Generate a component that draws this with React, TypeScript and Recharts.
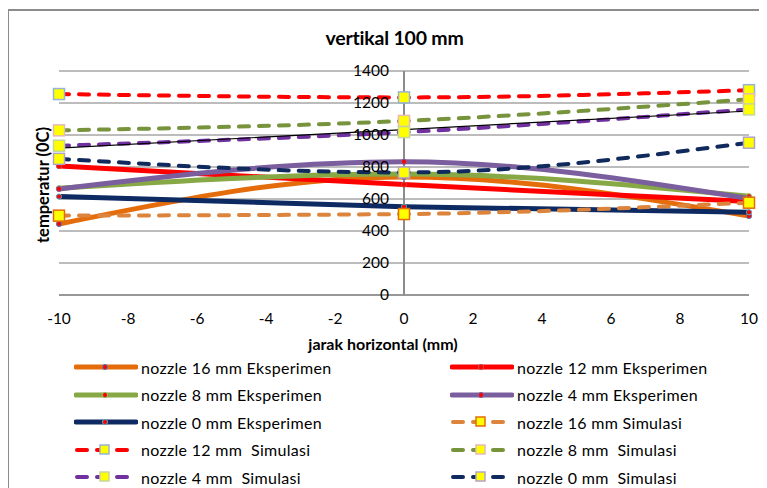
import React from "react";
import {
  LineChart,
  Line,
  XAxis,
  YAxis,
  CartesianGrid,
  ReferenceLine,
} from "recharts";

const xValues = [-10, 0, 10];

const nozzle16Eks = [444, 738, 494];
const nozzle12Eks = [806, 690, 585];
const nozzle8Eks = [667, 756, 617];
const nozzle4Eks = [663, 833, 603];
const nozzle0Eks = [615, 552, 517];
const nozzle16Sim = [496, 506, 577];
const nozzle12Sim = [1256, 1235, 1280];
const nozzle8Sim = [1029, 1088, 1223];
const nozzle4Sim = [933, 1018, 1160];
const nozzle0Sim = [851, 766, 952];
const trend4Sim = [918, 1034, 1150];

const xTicks = [-10, -8, -6, -4, -2, 0, 2, 4, 6, 8, 10];
const yTicks = [0, 200, 400, 600, 800, 1000, 1200, 1400];

const FONT = "Lato, Carlito, Calibri, 'Open Sans', sans-serif";

type Series = {
  key: string;
  name: string;
  values: number[];
  color: string;
  sim: boolean;
  border: string;
};

const series: Series[] = [
  { key: "n16e", name: "nozzle 16 mm Eksperimen", values: nozzle16Eks, color: "#E46C0A", sim: false, border: "#4F81BD" },
  { key: "n12e", name: "nozzle 12 mm Eksperimen", values: nozzle12Eks, color: "#FF0000", sim: false, border: "#C0504D" },
  { key: "n8e", name: "nozzle 8 mm Eksperimen", values: nozzle8Eks, color: "#86A845", sim: false, border: "#9BBB59" },
  { key: "n4e", name: "nozzle 4 mm Eksperimen", values: nozzle4Eks, color: "#7B5E9E", sim: false, border: "#8064A2" },
  { key: "n0e", name: "nozzle 0 mm Eksperimen", values: nozzle0Eks, color: "#0E2A62", sim: false, border: "#4BACC6" },
  { key: "n16s", name: "nozzle 16 mm Simulasi", values: nozzle16Sim, color: "#DD843C", sim: true, border: "#E46C0A" },
  { key: "n12s", name: "nozzle 12 mm  Simulasi", values: nozzle12Sim, color: "#FF0000", sim: true, border: "#95B3D7" },
  { key: "n8s", name: "nozzle 8 mm  Simulasi", values: nozzle8Sim, color: "#77933C", sim: true, border: "#E6B9B8" },
  { key: "n4s", name: "nozzle 4 mm  Simulasi", values: nozzle4Sim, color: "#7030A0", sim: true, border: "#C3D69B" },
  { key: "n0s", name: "nozzle 0 mm  Simulasi", values: nozzle0Sim, color: "#102A5E", sim: true, border: "#B3A2C7" },
];

const data = xValues.map((x, i) => {
  const row: Record<string, number> = { x, trend: trend4Sim[i] };
  series.forEach((s) => {
    row[s.key] = s.values[i];
  });
  return row;
});

const makeDot = (s: Series) => (props: any) => {
  const { cx, cy, index } = props;
  if (cx == null || cy == null) return <g key={`${s.key}-${index}`} />;
  if (s.sim) {
    return (
      <rect
        key={`${s.key}-${index}`}
        x={cx - 5.5}
        y={cy - 5.5}
        width={11}
        height={11}
        fill="#FFFF00"
        stroke={s.border}
        strokeWidth={1.5}
      />
    );
  }
  return (
    <circle
      key={`${s.key}-${index}`}
      cx={cx}
      cy={cy}
      r={2.6}
      fill="#FF0000"
      stroke={s.border}
      strokeWidth={1}
    />
  );
};

// y labels sit next to the axis that crosses at x = 0 (plot centre)
const YTick = (props: any) => {
  const { y, payload } = props;
  return (
    <text x={389} y={y} dy={5} textAnchor="end" fontSize={15.5} fill="#000" fontFamily={FONT}>
      {payload.value}
    </text>
  );
};

const LegendIcon = ({ s }: { s: Series }) => (
  <svg width={64} height={20}>
    {s.sim ? (
      <line x1={3} y1={10} x2={61} y2={10} stroke={s.color} strokeWidth={4} strokeDasharray="10 10" strokeLinecap="round" />
    ) : (
      <line x1={2} y1={10} x2={62} y2={10} stroke={s.color} strokeWidth={5} strokeLinecap="round" />
    )}
    {s.sim ? (
      <rect x={26} y={5} width={9} height={9} fill="#FFFF00" stroke={s.border} strokeWidth={1.5} />
    ) : (
      <circle cx={31} cy={10} r={2.6} fill="#FF0000" stroke={s.border} strokeWidth={1} />
    )}
  </svg>
);

export default function App() {
  return (
    <div
      style={{
        position: "relative",
        width: 767,
        height: 488,
        overflow: "hidden",
        margin: "-8px 0 0 -8px",
        background: "#fff",
        fontFamily: FONT,
      }}
    >
      <div
        style={{
          position: "absolute",
          left: 7,
          top: 9,
          width: 800,
          height: 600,
          borderLeft: "2px solid #8C8C8C",
          borderTop: "2px solid #8C8C8C",
        }}
      />
      <div
        style={{
          position: "absolute",
          left: 0,
          top: 26,
          width: 789,
          textAlign: "center",
          fontSize: 19.5,
          fontWeight: 700,
          letterSpacing: -0.2,
        }}
      >
        vertikal 100 mm
      </div>
      <div
        style={{
          position: "absolute",
          left: 43,
          top: 185,
          transform: "translate(-50%, -50%) rotate(-90deg)",
          fontSize: 16.5,
          fontWeight: 700,
          whiteSpace: "nowrap",
        }}
      >
        temperatur (0C)
      </div>
      <div
        style={{
          position: "absolute",
          left: 383,
          top: 343,
          transform: "translate(-50%, -50%)",
          fontSize: 16,
          fontWeight: 700,
          whiteSpace: "nowrap",
        }}
      >
        jarak horizontal (mm)
      </div>
      <div style={{ position: "absolute", left: 0, top: 0 }}>
        <LineChart
          width={767}
          height={488}
          data={data}
          margin={{ top: 71, right: 18, bottom: 153, left: 58 }}
        >
          <CartesianGrid vertical={false} stroke="#A6A6A6" strokeWidth={1.5} />
          <XAxis
            type="number"
            dataKey="x"
            domain={[-10, 10]}
            ticks={xTicks}
            height={40}
            axisLine={{ stroke: "#8C8C8C", strokeWidth: 1.5 }}
            tickLine={false}
            tickMargin={12}
            tick={{ fontSize: 15.5, fill: "#000", fontFamily: FONT }}
          />
          <YAxis
            type="number"
            domain={[0, 1400]}
            ticks={yTicks}
            width={1}
            axisLine={false}
            tickLine={false}
            tick={YTick}
          />
          <ReferenceLine x={0} stroke="#8C8C8C" strokeWidth={2} />
          {series.map((s) => (
            <Line
              key={s.key}
              type="monotone"
              dataKey={s.key}
              name={s.name}
              stroke={s.color}
              strokeWidth={s.sim ? 4 : 5}
              strokeDasharray={s.sim ? "10 10" : undefined}
              strokeLinecap="round"
              dot={makeDot(s)}
              activeDot={false}
              isAnimationActive={false}
            />
          ))}
          <Line
            type="linear"
            dataKey="trend"
            stroke="#000"
            strokeWidth={1.2}
            dot={false}
            activeDot={false}
            legendType="none"
            isAnimationActive={false}
          />
        </LineChart>
      </div>
      {series.map((s, i) => {
        const row = Math.floor(i / 2);
        const col = i % 2;
        return (
          <div
            key={s.key}
            style={{
              position: "absolute",
              left: col === 0 ? 74 : 450,
              top: 367 + row * 27.5 - 10,
              height: 20,
              display: "flex",
              alignItems: "center",
            }}
          >
            <LegendIcon s={s} />
            <span style={{ marginLeft: 3, fontSize: 16, letterSpacing: 0.3, whiteSpace: "pre", color: "#000" }}>
              {s.name}
            </span>
          </div>
        );
      })}
    </div>
  );
}
